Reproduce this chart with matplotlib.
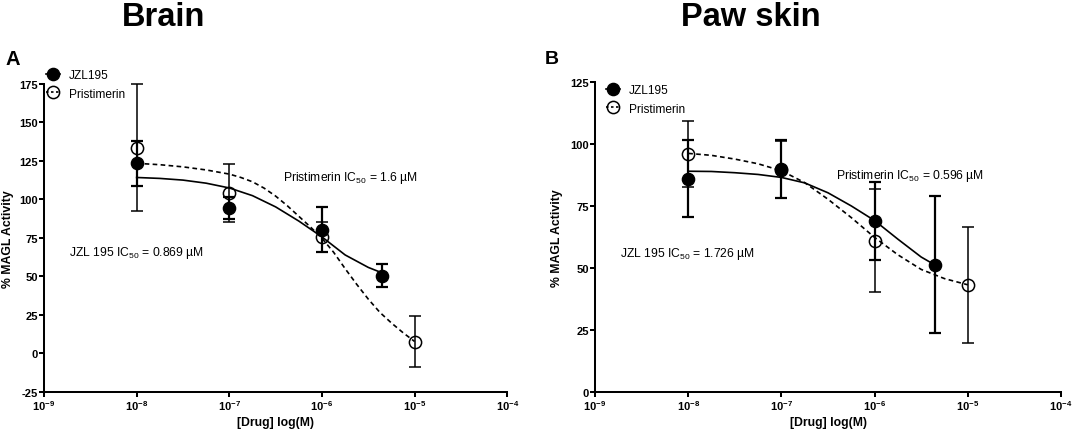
import numpy as np
import matplotlib.pyplot as plt
from matplotlib.lines import Line2D
from matplotlib.ticker import FixedLocator, FuncFormatter, NullLocator

plt.rcParams['font.family'] = ['Liberation Sans', 'DejaVu Sans']
plt.rcParams['mathtext.fontset'] = 'custom'
plt.rcParams['mathtext.rm'] = 'Liberation Sans'
plt.rcParams['mathtext.it'] = 'Liberation Sans:italic'
plt.rcParams['mathtext.bf'] = 'Liberation Sans:bold'

#############
##Data##
#############
# Brain (panel A)
brain_jzl_conc = [1e-8, 1e-7, 1e-6, 4.4e-6]
brain_jzl_mean = [123.3, 94.3, 80.2, 50.3]
brain_jzl_err = [14.8, 7.4, 14.7, 7.4]
brain_pri_conc = [1e-8, 1e-7, 1e-6, 1e-5]
brain_pri_mean = [133.5, 104.0, 75.5, 7.5]
brain_pri_err = [41.0, 19.0, 10.0, 16.5]

# fitted curves (log10 M, % activity)
brain_jzl_fit_logx = [-8, -7.75, -7.5, -7.25, -7, -6.75, -6.5, -6.25, -6, -5.75, -5.5, -5.357]
brain_jzl_fit_y = [114.1, 113.5, 112.4, 110.4, 107.3, 102.3, 95.0, 85.8, 75.5, 63.8, 55.7, 52.3]
brain_pri_fit_logx = [-8, -7.75, -7.5, -7.25, -7, -6.875, -6.75, -6.625, -6.5, -6.375, -6.25,
                      -6.125, -6, -5.875, -5.75, -5.625, -5.5, -5.375, -5.25, -5.125, -5]
brain_pri_fit_y = [123.3, 122.4, 121.0, 119.0, 116.3, 114.1, 111.3, 107.2, 102.0, 95.8, 88.9,
                   82.0, 74.6, 65.6, 54.9, 44.7, 35.1, 26.5, 19.6, 13.3, 7.6]

# Paw skin (panel B)
paw_jzl_conc = [1e-8, 1e-7, 1e-6, 4.4e-6]
paw_jzl_mean = [85.8, 89.8, 69.0, 51.2]
paw_jzl_err = [15.5, 11.8, 15.7, 27.7]
paw_pri_conc = [1e-8, 1e-7, 1e-6, 1e-5]
paw_pri_mean = [95.8, 89.5, 60.9, 43.0]
paw_pri_err = [13.2, 11.5, 20.8, 23.5]

paw_jzl_fit_logx = [-8, -7.75, -7.5, -7.25, -7, -6.75, -6.5, -6.25, -6, -5.75, -5.5, -5.357]
paw_jzl_fit_y = [88.9, 88.8, 88.3, 87.6, 86.4, 84.2, 80.2, 74.9, 69.0, 61.5, 54.3, 51.2]
paw_pri_fit_logx = [-8, -7.75, -7.5, -7.25, -7, -6.75, -6.5, -6.25, -6, -5.75, -5.5, -5.25, -5]
paw_pri_fit_y = [96.1, 95.3, 93.8, 91.9, 89.1, 84.3, 77.6, 70.2, 62.2, 55.2, 49.3, 45.6, 43.1]

brain_yticks = [-25, 0, 25, 50, 75, 100, 125, 150, 175]
paw_yticks = [0, 25, 50, 75, 100, 125]
xtick_decades = [-9, -8, -7, -6, -5, -4]

###############
##Plot##
###############
W, H = 1072, 435
fig = plt.figure(figsize=(W/100, H/100), dpi=100)
axL = fig.add_axes([44/W, (H-392.7)/H, 463.3/W, 308/H])
axR = fig.add_axes([595/W, (H-392.7)/H, 466/W, 310/H])

def draw_panel(ax, jc, jm, je, pc, pm, pe, jfx, jfy, pfx, pfy, yticks):
    ax.plot(10.0**np.asarray(jfx), jfy, color="k", lw=1.2, zorder=2)
    ax.plot(10.0**np.asarray(pfx), pfy, color="k", lw=1.2, ls=(0, (2.8, 2.0)), zorder=2)
    ax.errorbar(pc, pm, yerr=pe, fmt="none", ecolor="k", elinewidth=1.1,
                capsize=4.3, capthick=1.1, zorder=3, clip_on=False)
    ax.errorbar(jc, jm, yerr=je, fmt="none", ecolor="k", elinewidth=1.6,
                capsize=4.3, capthick=1.6, zorder=3, clip_on=False)
    ax.plot(pc, pm, ls="none", marker="o", ms=8.8, mfc="none", mec="k", mew=1.1,
            zorder=4, clip_on=False)
    ax.plot(jc, jm, ls="none", marker="o", ms=8.8, mfc="k", mec="k",
            zorder=5, clip_on=False)

    ax.set_xscale("log")
    ax.set_xlim(1e-9, 1e-4)
    ax.set_ylim(yticks[0], yticks[-1])
    ax.xaxis.set_major_locator(FixedLocator([10.0**d for d in xtick_decades]))
    ax.xaxis.set_minor_locator(NullLocator())
    ax.xaxis.set_major_formatter(FuncFormatter(
        lambda v, p: r"$\mathbf{10^{%d}}$" % int(round(np.log10(v)))))
    ax.set_yticks(yticks)
    ax.set_yticklabels([str(t) for t in yticks], fontweight="bold")
    for sp in ["top", "right"]:
        ax.spines[sp].set_visible(False)
    for sp in ["left", "bottom"]:
        ax.spines[sp].set_linewidth(1.45)
    ax.tick_params(direction="out", length=3.6, width=1.45, labelsize=8, pad=0.8)
    ax.set_xlabel("[Drug] log(M)", fontsize=8.8, fontweight="bold")
    ax.set_ylabel("% MAGL Activity", fontsize=8.8, fontweight="bold")
    ax.xaxis.set_label_coords(0.5, -0.078)
    ax.xaxis.label.set_va("top")

draw_panel(axL, brain_jzl_conc, brain_jzl_mean, brain_jzl_err,
           brain_pri_conc, brain_pri_mean, brain_pri_err,
           brain_jzl_fit_logx, brain_jzl_fit_y, brain_pri_fit_logx, brain_pri_fit_y,
           brain_yticks)
draw_panel(axR, paw_jzl_conc, paw_jzl_mean, paw_jzl_err,
           paw_pri_conc, paw_pri_mean, paw_pri_err,
           paw_jzl_fit_logx, paw_jzl_fit_y, paw_pri_fit_logx, paw_pri_fit_y,
           paw_yticks)
axL.yaxis.set_label_coords(-0.064, 0.5)
axR.yaxis.set_label_coords(-0.069, 0.5)

#IC50 annotations
axL.text(10**-6.419, 112.7, "Pristimerin IC$_{50}$ = 1.6 µM", fontsize=8.7, va="baseline")
axL.text(10**-8.731, 63.5, "JZL 195 IC$_{50}$ = 0.869 µM", fontsize=8.7, va="baseline")
axR.text(10**-6.417, 86.2, "Pristimerin IC$_{50}$ = 0.596 µM", fontsize=8.7, va="baseline")
axR.text(10**-8.735, 54.8, "JZL 195 IC$_{50}$ = 1.726 µM", fontsize=8.7, va="baseline")

#Legends
handles = [Line2D([], [], color="k", lw=1.2, marker="o", ms=8.8, mfc="k"),
           Line2D([], [], color="k", lw=1.2, ls=(0, (1.5, 1.5)), marker="o", ms=8.8,
                  mfc="none", mew=1.1)]
for ax, (lx, ly) in [(axL, (46, 70)), (axR, (606, 85))]:
    ax.legend(handles, ["JZL195", "Pristimerin"], loc="upper left",
              bbox_to_anchor=(lx/W, 1-ly/H), bbox_transform=fig.transFigure,
              frameon=False, fontsize=8.6, handlelength=1.2, handletextpad=0.7,
              labelspacing=0.55, borderpad=0, borderaxespad=0)

#Titles and panel letters
fig.text(164/W, 1-26/H, "Brain", fontsize=23.5, fontweight="bold", ha="center", va="baseline")
fig.text(751/W, 1-26.5/H, "Paw skin", fontsize=23.5, fontweight="bold", ha="center", va="baseline")
fig.text(5/W, 1-65/H, "A", fontsize=14.5, fontweight="bold", ha="left", va="baseline")
fig.text(545/W, 1-64/H, "B", fontsize=14, fontweight="bold", ha="left", va="baseline")

plt.savefig("out.png", dpi=100)
